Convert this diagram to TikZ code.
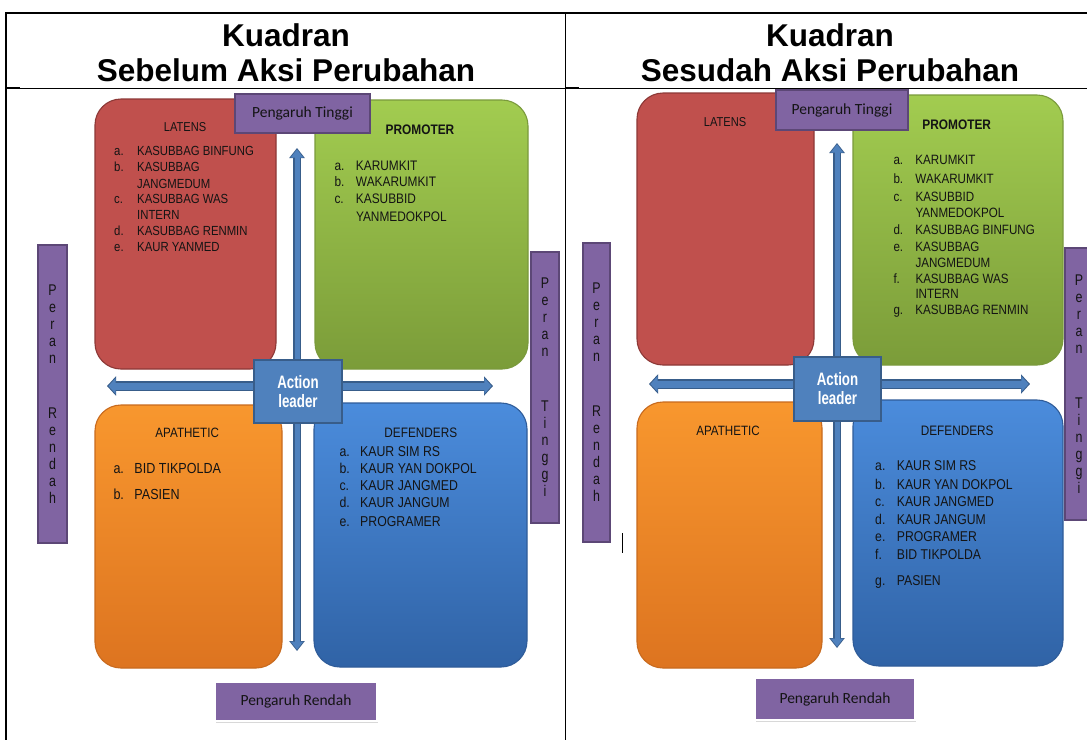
\documentclass[tikz,border=0pt]{standalone}
\usepackage{fontspec}
\setmainfont{Liberation Sans}
\newfontfamily\narrowsans[FakeStretch=0.86]{Liberation Sans}
\newfontfamily\sidesans[FakeStretch=0.8]{Liberation Sans}
\newfontfamily\leadsans[FakeStretch=0.74]{Liberation Sans}
\newfontfamily\calsans{Carlito}
\usetikzlibrary{arrows.meta,shadows}

\definecolor{latred}{HTML}{C0504D}
\definecolor{latredline}{HTML}{8C3836}
\definecolor{protop}{HTML}{A2CC50}
\definecolor{probot}{HTML}{7B9C39}
\definecolor{proline}{HTML}{7A9A3C}
\definecolor{apatop}{HTML}{F8972E}
\definecolor{apabot}{HTML}{DD7420}
\definecolor{apaline}{HTML}{C86A1E}
\definecolor{deftop}{HTML}{4B8CDC}
\definecolor{defbot}{HTML}{3063A6}
\definecolor{defline}{HTML}{2F5C99}
\definecolor{pgpurple}{HTML}{8064A2}
\definecolor{pgpurpledark}{HTML}{5C4776}
\definecolor{axisblue}{HTML}{4F81BD}
\definecolor{axisdark}{HTML}{385D8A}
\definecolor{inktext}{HTML}{141414}

\tikzset{
  qbox/.style={rounded corners=26pt, line width=1.1pt, anchor=north west,
    inner sep=0pt, outer sep=0pt},
  purplebox/.style={fill=pgpurple, draw=pgpurpledark, line width=1.3pt,
    inner sep=0pt, text=inktext},
  sidebox/.style={purplebox, align=center,
    font=\sidesans\fontsize{15.5pt}{17pt}\selectfont},
  influence/.style={purplebox, font=\calsans\fontsize{15.5pt}{18pt}\selectfont},
  leaderbox/.style={fill=axisblue, draw=axisdark, line width=1.3pt, inner sep=0pt,
    align=center, text=white,
    font=\leadsans\bfseries\fontsize{18pt}{19pt}\selectfont},
  listline/.style={anchor=base west, inner sep=0pt, text=inktext},
  qtitle/.style={anchor=base, inner sep=0pt, text=inktext},
  heading/.style={anchor=base, inner sep=0pt,
    font=\bfseries\fontsize{31.5pt}{35pt}\selectfont},
  hout/.style={line width=10pt, draw=axisdark,
    {Triangle[length=9pt,width=19pt]}-{Triangle[length=9pt,width=19pt]}},
  hin/.style={line width=7pt, draw=axisblue, shorten <=1.4pt, shorten >=1.4pt,
    {Triangle[length=7.3pt,width=15.5pt]}-{Triangle[length=7.3pt,width=15.5pt]}},
  vout/.style={line width=7.5pt, draw=axisdark,
    {Triangle[length=10pt,width=15pt]}-{Triangle[length=10pt,width=15pt]}},
  vin/.style={line width=5pt, draw=axisblue, shorten <=1.3pt, shorten >=1.3pt,
    {Triangle[length=8.2pt,width=12pt]}-{Triangle[length=8.2pt,width=12pt]}},
}

% one list line per entry: baseline / label / text
\newcommand\itemlist[5]{%
  \foreach \yy/\lab/\txt [count=\k] in {#5} {
    \node[listline, font=\narrowsans\fontsize{#4}{#4}\selectfont] (#1-\k)
      at (#2,\yy) {\makebox[#3][l]{\lab}\txt};
  }}

\begin{document}
\begin{tikzpicture}[x=1pt,y=-1pt]
\useasboundingbox (0,0) rectangle (1087,740);
\clip (0,0) rectangle (1087,740);
\fill[white] (0,0) rectangle (1087,740);

% ---------- table frame ----------
\coordinate (frameTR) at (1087,13);
\coordinate (frameTL) at (6,13);
\coordinate (frameBL) at (6,740);
\coordinate (midT) at (565.5,13);
\coordinate (midB) at (565.5,740);
\coordinate (headL) at (6,88);
\coordinate (headR) at (1087,88);
\coordinate (stubA) at (20,88);
\coordinate (midH) at (565.5,88);
\coordinate (stubB) at (579,88);
\draw[line width=2pt] (frameTR) -- (frameTL) -- (frameBL);
\draw[line width=1.1pt] (midT) -- (midB);
\draw[line width=1pt] (headL) -- (headR);
\draw[line width=1.8pt] (headL) -- (stubA);
\draw[line width=1.8pt] (midH) -- (stubB);

\node[heading] (titleA1) at (286,46) {Kuadran};
\node[heading] (titleA2) at (286,81) {Sebelum Aksi Perubahan};
\node[heading] (titleB1) at (830,46) {Kuadran};
\node[heading] (titleB2) at (830,81) {Sesudah Aksi Perubahan};

% =============== before ===============
\node[qbox, fill=latred, draw=latredline, minimum width=181pt, minimum height=270pt] (latA) at (95,99) {};
\node[qbox, top color=protop, bottom color=probot, draw=proline, minimum width=213pt, minimum height=269pt] (proA) at (315,100) {};
\node[qbox, top color=apatop, bottom color=apabot, draw=apaline, minimum width=187pt, minimum height=263pt] (apaA) at (95,405) {};
\node[qbox, top color=deftop, bottom color=defbot, draw=defline, minimum width=213pt, minimum height=264pt] (defA) at (314,403) {};

\coordinate (hA1) at (107,386);
\coordinate (hA2) at (493,386);
\coordinate (vA1) at (297,148);
\coordinate (vA2) at (297,651);
\draw[vout] (vA1) -- (vA2);
\draw[vin] (vA1) -- (vA2);
\draw[hout] (hA1) -- (hA2);
\draw[hin] (hA1) -- (hA2);

\node[leaderbox, minimum width=88pt, minimum height=63pt] (leadA) at (298,391.5) {Action\\leader};
\node[influence, minimum width=135pt, minimum height=39pt] (hiA) at (302.5,113.5) {Pengaruh Tinggi};
\node[influence, draw=white, line width=2.5pt, minimum width=162pt, minimum height=39pt,
  drop shadow={opacity=0.3, shadow xshift=1pt, shadow yshift=-1.5pt}] (loA) at (296,701.5) {Pengaruh Rendah};
\node[sidebox, minimum width=29pt, minimum height=298pt] (lowroleA) at (52.5,394)
  {P\\e\\r\\a\\n\\[38pt]R\\e\\n\\d\\a\\h};
\node[sidebox, minimum width=28pt, minimum height=271pt] (highroleA) at (545,387.5)
  {P\\e\\r\\a\\n\\[38pt]T\\i\\n\\g\\g\\i};

\node[qtitle, font=\narrowsans\fontsize{12.9pt}{13pt}\selectfont] (latAt) at (185,131.3) {LATENS};
\node[qtitle, font=\narrowsans\bfseries\fontsize{13.8pt}{14pt}\selectfont] (proAt) at (420,134) {PROMOTER};
\node[qtitle, font=\narrowsans\fontsize{13.5pt}{14pt}\selectfont] (apaAt) at (187.2,437.3) {APATHETIC};
\node[qtitle, font=\narrowsans\fontsize{13.7pt}{14pt}\selectfont] (defAt) at (420.8,437.3) {DEFENDERS};

\itemlist{latAi}{114}{23pt}{13.2pt}{155.7/a./KASUBBAG BINFUNG, 171.7/b./KASUBBAG,
  188/{}/JANGMEDUM, 203.7/c./KASUBBAG WAS, 219.3/{}/INTERN,
  235.3/d./KASUBBAG RENMIN, 251/e./KAUR YANMED}
\itemlist{proAi}{334.3}{21.5pt}{13.8pt}{170/a./KARUMKIT, 186.7/b./WAKARUMKIT,
  203.3/c./KASUBBID, 221/{}/YANMEDOKPOL}
\itemlist{apaAi}{113.3}{21pt}{14.6pt}{473.3/a./BID TIKPOLDA, 499.3/b./PASIEN}
\itemlist{defAi}{339.3}{20.7pt}{14.3pt}{456.7/a./KAUR SIM RS, 473.3/b./KAUR YAN DOKPOL,
  490.7/c./KAUR JANGMED, 507.7/d./KAUR JANGUM, 526/e./PROGRAMER}

% =============== after ===============
\node[qbox, fill=latred, draw=latredline, minimum width=177pt, minimum height=272pt] (latB) at (637,93) {};
\node[qbox, top color=protop, bottom color=probot, draw=proline, minimum width=210pt, minimum height=270pt] (proB) at (853,95) {};
\node[qbox, top color=apatop, bottom color=apabot, draw=apaline, minimum width=185pt, minimum height=266pt] (apaB) at (637,402) {};
\node[qbox, top color=deftop, bottom color=defbot, draw=defline, minimum width=210pt, minimum height=266pt] (defB) at (853,400) {};

\coordinate (hB1) at (649,384);
\coordinate (hB2) at (1030,384);
\coordinate (vB1) at (837,143);
\coordinate (vB2) at (837,648);
\draw[vout] (vB1) -- (vB2);
\draw[vin] (vB1) -- (vB2);
\draw[hout] (hB1) -- (hB2);
\draw[hin] (hB1) -- (hB2);

\node[leaderbox, minimum width=87pt, minimum height=64pt] (leadB) at (837.5,389) {Action\\leader};
\node[influence, minimum width=132pt, minimum height=40pt] (hiB) at (842,110) {Pengaruh Tinggi};
\node[influence, draw=white, line width=2.5pt, minimum width=160pt, minimum height=42pt,
  drop shadow={opacity=0.3, shadow xshift=1pt, shadow yshift=-1.5pt}] (loB) at (835,699) {Pengaruh Rendah};
\node[sidebox, minimum width=27pt, minimum height=299pt] (lowroleB) at (596.5,392.5)
  {P\\e\\r\\a\\n\\[38pt]R\\e\\n\\d\\a\\h};
\node[sidebox, minimum width=28pt, minimum height=272pt] (highroleB) at (1079,384)
  {P\\e\\r\\a\\n\\[38pt]T\\i\\n\\g\\g\\i};

% text cursor mark
\coordinate (caretT) at (622,533);
\coordinate (caretB) at (622,553);
\draw[line width=0.9pt] (caretT) -- (caretB);

\node[qtitle, font=\narrowsans\fontsize{12.9pt}{13pt}\selectfont] (latBt) at (725,126) {LATENS};
\node[qtitle, font=\narrowsans\bfseries\fontsize{13.8pt}{14pt}\selectfont] (proBt) at (956.7,129) {PROMOTER};
\node[qtitle, font=\narrowsans\fontsize{13.5pt}{14pt}\selectfont] (apaBt) at (728,435) {APATHETIC};
\node[qtitle, font=\narrowsans\fontsize{13.7pt}{14pt}\selectfont] (defBt) at (957.2,435) {DEFENDERS};

\itemlist{proBi}{893.3}{22pt}{13.5pt}{164.3/a./KARUMKIT, 183.3/b./WAKARUMKIT,
  201/c./KASUBBID, 217.7/{}/YANMEDOKPOL, 234.3/d./KASUBBAG BINFUNG,
  251/e./KASUBBAG, 267.7/{}/JANGMEDUM, 283.3/f./KASUBBAG WAS,
  298.3/{}/INTERN, 314.3/g./KASUBBAG RENMIN}
\itemlist{defBi}{875}{21.7pt}{14.2pt}{470/a./KAUR SIM RS, 489/b./KAUR YAN DOKPOL,
  506.7/c./KAUR JANGMED, 524/d./KAUR JANGUM, 541.7/e./PROGRAMER,
  559/f./BID TIKPOLDA, 585.7/g./PASIEN}
\end{tikzpicture}
\end{document}
